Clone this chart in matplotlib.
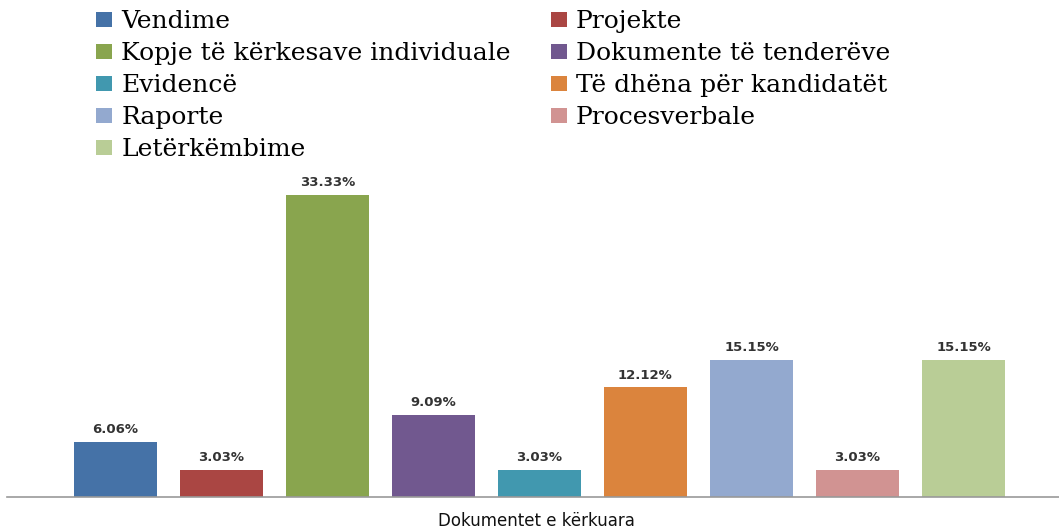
import matplotlib
matplotlib.use("Agg")
import matplotlib.pyplot as plt

categories = ["Vendime", "Projekte", "Kopje të kërkesave individuale",
              "Dokumente të tenderëve", "Evidencë", "Të dhëna për kandidatët",
              "Raporte", "Procesverbale", "Letërkëmbime"]
values = [6.06, 3.03, 33.33, 9.09, 3.03, 12.12, 15.15, 3.03, 15.15]
colors = ["#4572A7", "#AA4643", "#89A54E", "#71588F", "#4198AF",
          "#DB843D", "#93A9CF", "#D19392", "#B9CD96"]
x_label = "Dokumentet e kërkuara"

W, H = 1059, 529
fig = plt.figure(figsize=(W / 100, H / 100), dpi=100)
ax = fig.add_axes([7 / W, 1 - 497 / H, 1 - 7 / W, (497 - 175) / H])

bars = []
for i, (v, c, lab) in enumerate(zip(values, colors, categories)):
    b = ax.bar(i, v, width=0.785, color=c, label=lab)
    bars.append(b)
    ax.annotate(f"{v:.2f}%", (i, v), xytext=(0, 4), textcoords="offset points",
                ha="center", va="bottom", fontsize=9.5, fontweight="bold",
                color="#333333", family="DejaVu Sans")

ax.set_xlim(-1.02, 8.9)
ax.set_ylim(0, 35.5)
for s in ["top", "right", "left"]:
    ax.spines[s].set_visible(False)
ax.spines["bottom"].set_color("#999999")
ax.spines["bottom"].set_linewidth(1.2)
ax.set_xticks([])
ax.set_yticks([])
fig.text(536 / W, 1 - 521 / H, x_label, ha="center", va="center",
         fontsize=12, family="DejaVu Sans", color="#111111")

# row-major order like the original (matplotlib fills columns first)
order = [0, 2, 4, 6, 8, 1, 3, 5, 7]
handles = [bars[i] for i in order]
labels = [categories[i] for i in order]
fig.legend(handles, labels, ncol=2, loc="upper left",
           bbox_to_anchor=(96 / W, 1 - 10 / H), frameon=False,
           borderaxespad=0, borderpad=0,
           prop={"family": "DejaVu Serif", "size": 18},
           handlelength=0.65, handleheight=0.56, handletextpad=0.36,
           columnspacing=1.6, labelspacing=0.36)

fig.savefig("out.png", dpi=100)
